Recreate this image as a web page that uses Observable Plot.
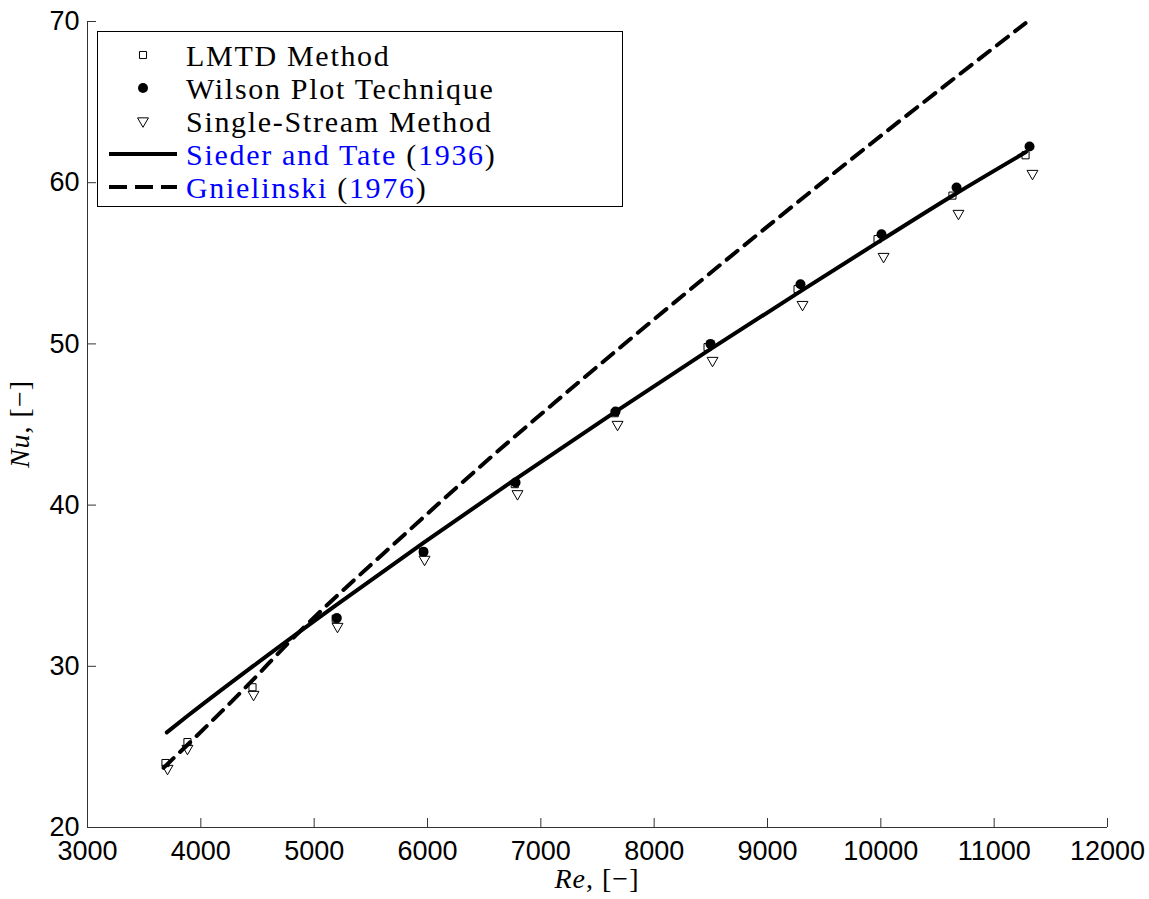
<!DOCTYPE html>
<html><head><meta charset="utf-8">
<script src="https://cdn.jsdelivr.net/npm/d3@7"></script>
<script src="https://cdn.jsdelivr.net/npm/@observablehq/plot@0.6"></script>
<style>body{margin:0;background:#fff} svg{display:block}</style>
</head><body><div id="chart"></div>
<script>
// ---- data ----
const lmtdRe = [3688, 3882, 4456, 5190, 5962, 6770, 7652, 8471, 9265, 9971, 10632, 11277];
const lmtdNu = [24.0, 25.3, 28.7, 32.95, 37.1, 41.3, 45.7, 49.8, 53.4, 56.5, 59.2, 61.7];

const wilsonRe = [5200, 5965, 6777, 7659, 8497, 9291, 10006, 10668, 11312];
const wilsonNu = [33.0, 37.1, 41.4, 45.8, 50.0, 53.7, 56.8, 59.7, 62.25];

const singleRe = [3706, 3882, 4465, 5206, 5974, 6794, 7677, 8515, 9309, 10024, 10685, 11338];
const singleNu = [23.66, 24.9, 28.25, 32.47, 36.63, 40.7, 45.0, 48.97, 52.44, 55.42, 58.09, 60.57];

const siederRe = [3700, 3890, 4470, 5200, 5970, 6780, 7660, 8500, 9290, 10000, 10650, 11280];
const siederNu = [25.9, 26.96, 30.06, 33.83, 37.69, 41.63, 45.8, 49.69, 53.26, 56.42, 59.27, 61.9];

const gnielRe = [3671, 4438, 4765, 5832, 6556, 7112, 8409, 9909, 11277];
const gnielNu = [23.7, 29.0, 31.4, 38.4, 42.95, 46.3, 53.9, 62.4, 69.9];

const xTicks = [3000, 4000, 5000, 6000, 7000, 8000, 9000, 10000, 11000, 12000];
const yTicks = [20, 30, 40, 50, 60, 70];

const legendLabels = ["LMTD Method", "Wilson Plot Technique", "Single-Stream Method"];
const siederLabel = ["Sieder and Tate ", "1936"];
const gnielLabel = ["Gnielinski ", "1976"];

// ---- build ----
const pts = (xs, ys) => xs.map((x, i) => ({x, y: ys[i]}));
const lmtd = pts(lmtdRe, lmtdNu), wilson = pts(wilsonRe, wilsonNu), single = pts(singleRe, singleNu);
const sieder = pts(siederRe, siederNu), gniel = pts(gnielRe, gnielNu);

const W = 1149, H = 899, mL = 87, mR = 42, mT = 21, mB = 72;
const fw = W - mL - mR, fh = H - mT - mB;
const axisColor = "#333";

const svg = Plot.plot({
  width: W, height: H,
  marginLeft: mL, marginRight: mR, marginTop: mT, marginBottom: mB,
  style: {fontFamily: "'Liberation Sans', Arial, sans-serif", fontSize: "27px", color: "#000", background: "#fff"},
  x: {domain: [3000, 12000]},
  y: {domain: [20, 70]},
  marks: [
    Plot.axisX({ticks: xTicks, tickSize: 0, tickPadding: 13, label: null, tickFormat: d => String(d), fontSize: 27}),
    Plot.axisY({ticks: yTicks, tickSize: 0, tickPadding: 8, label: null, tickFormat: d => String(d), fontSize: 27}),
    Plot.ruleX(xTicks, {x: d => d, insetTop: fh - 9, stroke: axisColor}),
    Plot.ruleY(yTicks, {y: d => d, insetRight: fw - 9, stroke: axisColor}),
    Plot.ruleX([3000], {stroke: axisColor}),
    Plot.ruleY([20], {stroke: axisColor}),
    Plot.dot(lmtd, {x: "x", y: "y", symbol: "square", r: 4, stroke: "#000", strokeWidth: 1, fill: "none"}),
    Plot.dot(wilson, {x: "x", y: "y", symbol: "circle", r: 5, fill: "#000", stroke: "none"}),
    Plot.dot(single, {x: "x", y: "y", symbol: "triangle2", r: 5.2, rotate: 180, stroke: "#000", strokeWidth: 1, fill: "none"}),
    Plot.line(sieder, {x: "x", y: "y", stroke: "#000", strokeWidth: 4, curve: "monotone-x"}),
    Plot.line(gniel, {x: "x", y: "y", stroke: "#000", strokeWidth: 4, strokeDasharray: "14,9", curve: "monotone-x"})
  ]
});
document.getElementById("chart").appendChild(svg);

// ---- axis labels (mixed italic) ----
const s = d3.select(svg);
const serif = "'Liberation Serif', 'Times New Roman', serif";
const xl = s.append("text").attr("x", mL + fw / 2).attr("y", 888).attr("text-anchor", "middle")
  .attr("font-family", serif).attr("font-size", 28).attr("letter-spacing", 1).attr("fill", "#000");
xl.append("tspan").attr("font-style", "italic").text("Re");
xl.append("tspan").text(", [\u2212]");
const yl = s.append("text").attr("transform", `translate(29,${mT + fh / 2}) rotate(-90)`).attr("text-anchor", "middle")
  .attr("font-family", serif).attr("font-size", 28).attr("letter-spacing", 1).attr("fill", "#000");
yl.append("tspan").attr("font-style", "italic").text("Nu");
yl.append("tspan").text(", [\u2212]");

// ---- legend ----
const lg = s.append("g").attr("text-anchor", "start");
lg.append("rect").attr("x", 97.5).attr("y", 31.5).attr("width", 525).attr("height", 175)
  .attr("fill", "#fff").attr("stroke", "#000").attr("stroke-width", 1);
const rows = [55, 88, 121, 154, 187];
const mx = 143, tx = 186;
lg.append("path").attr("transform", `translate(${mx},${rows[0]})`)
  .attr("d", d3.symbol(d3.symbolSquare, Math.PI * 16)()).attr("fill", "none").attr("stroke", "#000");
lg.append("circle").attr("cx", mx).attr("cy", rows[1]).attr("r", 5).attr("fill", "#000");
lg.append("path").attr("transform", `translate(${mx},${rows[2]}) rotate(180)`)
  .attr("d", d3.symbol(d3.symbolTriangle2, Math.PI * 5.2 * 5.2)()).attr("fill", "none").attr("stroke", "#000");
lg.append("line").attr("x1", 109).attr("x2", 177).attr("y1", rows[3]).attr("y2", rows[3]).attr("stroke", "#000").attr("stroke-width", 4);
lg.append("line").attr("x1", 109).attr("x2", 177).attr("y1", rows[4]).attr("y2", rows[4]).attr("stroke", "#000").attr("stroke-width", 4).attr("stroke-dasharray", "18,8");
const addText = (y) => lg.append("text").attr("x", tx).attr("y", y).attr("dy", "0.35em")
  .attr("text-anchor", "start")
  .attr("font-family", serif).attr("font-size", 30).attr("letter-spacing", 1.7).attr("fill", "#000");
legendLabels.forEach((t, i) => addText(rows[i]).text(t));
[[siederLabel, rows[3]], [gnielLabel, rows[4]]].forEach(([lab, y]) => {
  const t = addText(y);
  t.append("tspan").attr("fill", "#0000ff").text(lab[0]);
  t.append("tspan").attr("fill", "#000").text("(");
  t.append("tspan").attr("fill", "#0000ff").text(lab[1]);
  t.append("tspan").attr("fill", "#000").text(")");
});
</script>
</body></html>
